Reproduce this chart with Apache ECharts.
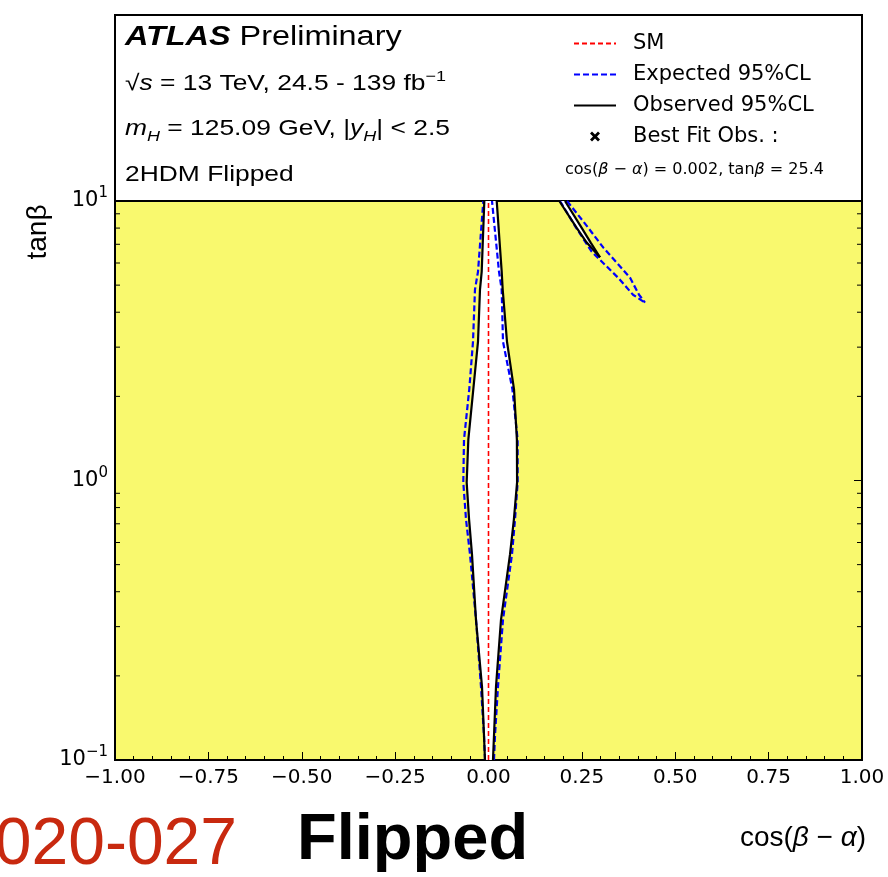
<!DOCTYPE html>
<html>
<head>
<meta charset="utf-8">
<script src="https://cdn.jsdelivr.net/npm/echarts/dist/echarts.min.js"></script>
<style>
  html, body { margin: 0; padding: 0; background: #fff; }
  #chart { width: 888px; height: 877px; }
</style>
</head>
<body>
<div id="chart"></div>
<script>
// contours: [cos(beta - alpha), tan(beta)]
const smLine = [[0, 0.1], [0, 10]]

const obsCentreLeft = [
  [-0.0094, 0.1], [-0.012, 0.122], [-0.0174, 0.183], [-0.0335, 0.318], [-0.0442, 0.544],
  [-0.052, 0.726], [-0.0584, 0.984], [-0.054, 1.40], [-0.0407, 2.12], [-0.0281, 3.14],
  [-0.0228, 4.82], [-0.0182, 5.59], [-0.0112, 10]
]
const obsCentreRight = [
  [0.012, 0.1], [0.0147, 0.122], [0.0201, 0.183], [0.0335, 0.318], [0.0576, 0.544],
  [0.068, 0.726], [0.0765, 0.984], [0.076, 1.40], [0.0683, 2.12], [0.0495, 3.14],
  [0.038, 4.82], [0.0353, 5.59], [0.022, 10]
]
const expCentreLeft = [
  [-0.0094, 0.1], [-0.012, 0.122], [-0.0201, 0.183], [-0.0335, 0.318], [-0.0495, 0.544],
  [-0.0602, 0.726], [-0.0675, 0.984], [-0.0656, 1.40], [-0.0515, 2.12], [-0.0415, 3.14],
  [-0.0362, 4.82], [-0.0281, 5.59], [-0.0139, 10]
]
const expCentreRight = [
  [0.0147, 0.1], [0.0174, 0.122], [0.0254, 0.183], [0.0388, 0.318], [0.0629, 0.544],
  [0.071, 0.726], [0.078, 0.984], [0.078, 1.40], [0.064, 2.12], [0.0388, 3.14],
  [0.0353, 4.82], [0.0281, 5.59], [0.0094, 10]
]
// thin island at large cos(beta - alpha), top to tip
const obsIslandLeft = [[0.1896, 10], [0.2361, 8.01], [0.263, 7.10], [0.2985, 6.29]]
const obsIslandRight = [[0.2048, 10], [0.2495, 8.01], [0.2736, 7.10], [0.2985, 6.29]]
const expIslandLeft = [
  [0.1914, 10], [0.2343, 8.03], [0.2763, 6.59], [0.3467, 5.32], [0.3869, 4.62], [0.419, 4.33]
]
const expIslandRight = [
  [0.2102, 10], [0.2584, 8.30], [0.3075, 6.81], [0.3788, 5.32], [0.403, 4.62], [0.419, 4.33]
]
const bestFit = [[0.002, 25.4]]

const yMinorTicks = [0.2, 0.3, 0.4, 0.5, 0.6, 0.7, 0.8, 0.9, 2, 3, 4, 5, 6, 7, 8, 9]
const legendNames = ['SM', 'Expected 95%CL', 'Observed 95%CL', 'Best Fit Obs. :']
const headerLines = [
  '{b|ATLAS} Preliminary',
  '\u221A{i|s} = 13 TeV, 24.5 - 139 fb{sup|\u22121}',
  '{i|m}{sub|H} = 125.09 GeV, |{i|y}{sub|H}| < 2.5',
  '2HDM Flipped'
]
const bestFitText = 'cos({i|\u03B2} \u2212 {i|\u03B1}) = 0.002, tan{i|\u03B2} = 25.4'

const YELLOW = '#f9f96e'
const SANS = '"Liberation Sans", Arial, sans-serif'
const DEJAVU = '"DejaVu Sans", sans-serif'
const crossPath = 'path://M2,0L5,3L8,0L10,2L7,5L10,8L8,10L5,7L2,10L0,8L3,5L0,2Z'

const chart = echarts.init(document.getElementById('chart'))

function whiteFill(left, right) {
  return function(params, api) {
    const pts = left.map(p => api.coord(p))
      .concat(right.slice().reverse().map(p => api.coord(p)))
    return { type: 'polygon', shape: { points: pts }, style: { fill: '#fff' } }
  }
}

function contour(name, data, color, type, width, z) {
  return {
    type: 'line',
    name: name,
    data: data,
    symbol: 'none',
    showSymbol: false,
    clip: true,
    z: z,
    lineStyle: { color: color, width: width, type: type },
    itemStyle: { color: color },
    emphasis: { disabled: true }
  }
}

const supRich = {
  b: { fontFamily: DEJAVU, fontSize: 21, lineHeight: 30, verticalAlign: 'middle', color: '#000' },
  s: { fontFamily: DEJAVU, fontSize: 15, lineHeight: 30, verticalAlign: 'top', color: '#000' }
}

const headerRich = {
  b: { fontFamily: SANS, fontSize: 27, fontStyle: 'italic', fontWeight: 'bold' },
  i: { fontFamily: SANS, fontSize: 22, fontStyle: 'italic', lineHeight: 30, verticalAlign: 'middle' },
  sup: { fontFamily: SANS, fontSize: 15, lineHeight: 30, verticalAlign: 'top' },
  sub: { fontFamily: SANS, fontSize: 15, fontStyle: 'italic', lineHeight: 28, verticalAlign: 'bottom' }
}
const headerY = [38, 84, 129, 175]

chart.setOption({
  animation: false,
  grid: {
    left: 115, right: 26, top: 201, bottom: 117,
    show: true, backgroundColor: YELLOW, borderColor: '#000', borderWidth: 2,
    outerBoundsMode: 'none'
  },
  legend: {
    data: legendNames.map(n => n === 'Best Fit Obs. :'
      ? { name: n, icon: crossPath, itemStyle: { opacity: 1, color: '#000' } }
      : n),
    orient: 'vertical',
    left: 568,
    top: 28,
    itemWidth: 42,
    itemHeight: 10,
    itemGap: 10,
    selectedMode: false,
    itemStyle: { opacity: 0 },
    textStyle: { fontFamily: DEJAVU, fontSize: 21, color: '#000', padding: [0, 0, 0, 12] }
  },
  xAxis: {
    type: 'value',
    min: -1, max: 1, interval: 0.25,
    axisLine: { show: true, lineStyle: { color: '#000', width: 2 } },
    axisTick: { show: true, inside: true, length: 8, lineStyle: { color: '#000', width: 1 } },
    minorTick: { show: true, splitNumber: 5, length: 4, lineStyle: { color: '#000', width: 1 } },
    splitLine: { show: false },
    axisLabel: {
      margin: 8,
      fontFamily: DEJAVU, fontSize: 20, color: '#000',
      formatter: v => (v < 0 ? '\u2212' : '') + Math.abs(v).toFixed(2)
    }
  },
  yAxis: [{
    type: 'log', logBase: 10, min: 0.1, max: 10,
    axisLine: { show: true, lineStyle: { color: '#000', width: 2 } },
    axisTick: { show: true, inside: true, length: 8, lineStyle: { color: '#000', width: 1 } },
    splitLine: { show: false },
    axisLabel: {
      margin: 7,
      formatter: v => {
        const e = Math.round(Math.log10(v))
        return '{b|10}{s|' + (e < 0 ? '\u2212' + (-e) : e) + '}'
      },
      rich: supRich
    }
  }, {
    type: 'log', logBase: 10, min: 0.1, max: 10, position: 'right',
    axisLine: { show: false },
    axisTick: { show: true, inside: true, length: 8, lineStyle: { color: '#000', width: 1 } },
    splitLine: { show: false },
    axisLabel: { show: false }
  }],
  graphic: [
    {
      type: 'rect', z: 0,
      shape: { x: 115, y: 15, width: 747, height: 186 },
      style: { fill: '#fff', stroke: '#000', lineWidth: 2 }
    },
    ...headerLines.map((t, i) => ({
      type: 'text', x: 125, y: headerY[i], scaleX: 1.2, z: 5,
      style: {
        text: t, fill: '#000', align: 'left', verticalAlign: 'middle',
        fontFamily: SANS, fontSize: i === 0 ? 27 : 22, rich: headerRich
      }
    })),
    {
      type: 'text', x: 565, y: 170, z: 5,
      style: {
        text: bestFitText, fill: '#000', align: 'left', verticalAlign: 'middle',
        fontFamily: DEJAVU, fontSize: 16,
        rich: { i: { fontFamily: DEJAVU, fontSize: 16, fontStyle: 'italic' } }
      }
    },
    {
      type: 'text', x: 38, y: 232, rotation: Math.PI / 2, z: 5,
      style: {
        text: 'tan\u03B2', fill: '#000', align: 'center', verticalAlign: 'middle',
        fontFamily: SANS, fontSize: 28
      }
    },
    {
      type: 'text', x: 866, y: 838, z: 5,
      style: {
        text: 'cos({i|\u03B2} \u2212 {i|\u03B1})', fill: '#000', align: 'right', verticalAlign: 'middle',
        fontFamily: SANS, fontSize: 28,
        rich: { i: { fontFamily: SANS, fontSize: 28, fontStyle: 'italic' } }
      }
    },
    {
      type: 'text', x: 297, y: 841, z: 5,
      style: {
        text: 'Flipped', fill: '#000', align: 'left', verticalAlign: 'middle',
        fontFamily: SANS, fontSize: 65, fontWeight: 'bold'
      }
    },
    {
      type: 'text', x: 237, y: 846, z: 5,
      style: {
        text: '2020-027', fill: '#c8290f', align: 'right', verticalAlign: 'middle',
        fontFamily: SANS, fontSize: 66
      }
    }
  ],
  series: [
    {
      type: 'custom', name: 'fill-centre', data: [[0, 1]], clip: true, z: 1, silent: true,
      renderItem: whiteFill(obsCentreLeft, obsCentreRight)
    },
    {
      type: 'custom', name: 'fill-island', data: [[0.25, 8]], clip: true, z: 1, silent: true,
      renderItem: whiteFill(obsIslandLeft, obsIslandRight)
    },
    {
      type: 'custom', name: 'minor-ticks', data: yMinorTicks.map(v => [-1, v]), clip: false, z: 3, silent: true,
      renderItem: (params, api) => {
        const l = api.coord([-1, api.value(1)])
        const r = api.coord([1, api.value(1)])
        return {
          type: 'group',
          children: [
            { type: 'line', shape: { x1: l[0], y1: l[1], x2: l[0] + 5, y2: l[1] }, style: { stroke: '#000', lineWidth: 1 } },
            { type: 'line', shape: { x1: r[0], y1: r[1], x2: r[0] - 5, y2: r[1] }, style: { stroke: '#000', lineWidth: 1 } }
          ]
        }
      }
    },
    contour('SM', smLine, '#ff0000', [5, 3], 1.6, 4),
    contour('Expected 95%CL', expCentreLeft, '#0000ff', [6, 3], 2.2, 5),
    contour('Expected 95%CL', expCentreRight, '#0000ff', [6, 3], 2.2, 5),
    contour('Expected 95%CL', expIslandLeft, '#0000ff', [6, 3], 2.2, 5),
    contour('Expected 95%CL', expIslandRight, '#0000ff', [6, 3], 2.2, 5),
    contour('Observed 95%CL', obsCentreLeft, '#000', 'solid', 2.2, 6),
    contour('Observed 95%CL', obsCentreRight, '#000', 'solid', 2.2, 6),
    contour('Observed 95%CL', obsIslandLeft, '#000', 'solid', 2.2, 6),
    contour('Observed 95%CL', obsIslandRight, '#000', 'solid', 2.2, 6),
    {
      type: 'scatter', name: 'Best Fit Obs. :', data: bestFit, clip: true,
      symbol: crossPath, symbolSize: 10, itemStyle: { color: '#000' }, z: 7
    }
  ]
})
</script>
</body>
</html>
